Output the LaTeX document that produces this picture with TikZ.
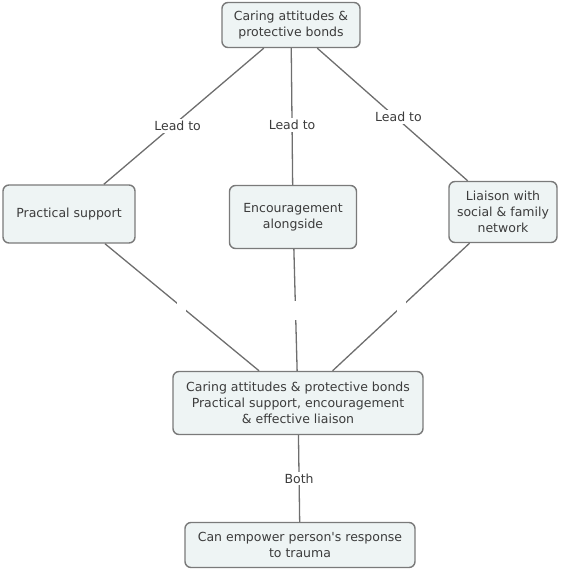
\documentclass[tikz,border=0pt]{standalone}
\usepackage{fontspec}
\setmainfont{DejaVu Sans}
\definecolor{boxfill}{HTML}{EEF4F4}
\definecolor{boxline}{HTML}{7A7A7A}
\definecolor{txt}{HTML}{3C3C3C}
\definecolor{linkcol}{HTML}{6E6E6E}
\tikzset{
  concept/.style={draw=boxline, fill=boxfill, line width=1.4pt, rounded corners=6pt,
    align=center, text=txt, font=\fontsize{12.5}{16}\selectfont, inner sep=0pt},
  link/.style={draw=linkcol, line width=1.3pt},
  linklabel/.style={fill=white, text=txt, font=\fontsize{12.5}{14}\selectfont, inner sep=2pt},
  gap/.style={fill=white, minimum width=9pt, minimum height=19pt, inner sep=0pt}
}

\begin{document}
\begin{tikzpicture}[x=1pt,y=-1pt]
  \useasboundingbox (0,0) rectangle (563,569);
  \node[concept, minimum width=138pt, minimum height=45pt] (care) at (291,25) {Caring attitudes \&\\protective bonds};
  \node[concept, minimum width=132pt, minimum height=58pt] (prac) at (69,214) {Practical support};
  \node[concept, minimum width=127pt, minimum height=63pt] (enc) at (293,217) {Encouragement\\alongside};
  \node[concept, minimum width=108pt, minimum height=61pt] (liaison) at (503,212) {Liaison with\\social \& family\\network};
  \node[concept, minimum width=250pt, minimum height=63pt] (combined) at (298,403) {Caring attitudes \& protective bonds\\Practical support, encouragement\\\& effective liaison};
  \node[concept, minimum width=230pt, minimum height=45pt] (empower) at (300,545) {Can empower person\textquotesingle s response\\to trauma};

  \draw[link] (care) -- node[linklabel, pos=0.57, xshift=5pt] {Lead to} (prac);
  \draw[link] (care) -- node[linklabel, pos=0.56] {Lead to} (enc);
  \draw[link] (care) -- node[linklabel, pos=0.52, xshift=3pt] {Lead to} (liaison);

  \draw[link] (prac) -- node[gap] {} (combined);
  \draw[link] (enc) -- node[gap] {} (combined);
  \draw[link] (liaison) -- node[gap] {} (combined);

  \draw[link] (combined) -- node[linklabel] {Both} (empower);
\end{tikzpicture}
\end{document}
